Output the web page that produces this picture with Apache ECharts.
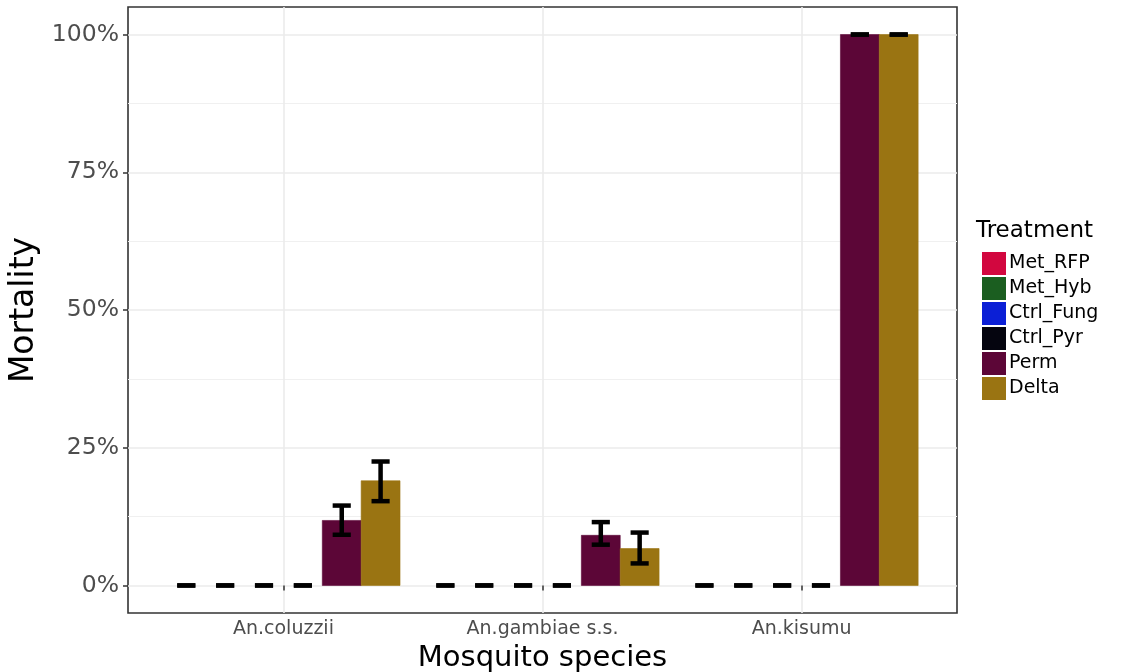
<!DOCTYPE html>
<html>
<head>
<meta charset="utf-8">
<script src="https://cdn.jsdelivr.net/npm/echarts@6/dist/echarts.min.js"></script>
<style>html,body{margin:0;padding:0;background:#fff}#c{width:1121px;height:672px}</style>
</head>
<body>
<div id="c"></div>
<script>
const categories = ['An.coluzzii', 'An.gambiae s.s.', 'An.kisumu'];
const treatments = ['Met_RFP', 'Met_Hyb', 'Ctrl_Fung', 'Ctrl_Pyr', 'Perm', 'Delta'];
const colors = ['#d2073f', '#1b5e20', '#0b1fd6', '#05050f', '#5c0637', '#9a7412'];
const yTicks = [0, 25, 50, 75, 100];

// mean, lower, upper (%) per category
const metRFPMean = [0, 0, 0], metRFPLow = [0, 0, 0], metRFPHigh = [0, 0, 0];
const metHybMean = [0, 0, 0], metHybLow = [0, 0, 0], metHybHigh = [0, 0, 0];
const ctrlFungMean = [0, 0, 0], ctrlFungLow = [0, 0, 0], ctrlFungHigh = [0, 0, 0];
const ctrlPyrMean = [0, 0, 0], ctrlPyrLow = [0, 0, 0], ctrlPyrHigh = [0, 0, 0];
const permMean = [11.8, 9.1, 100], permLow = [9.2, 7.4, 100], permHigh = [14.5, 11.5, 100];
const deltaMean = [19.0, 6.7, 100], deltaLow = [15.3, 4.0, 100], deltaHigh = [22.5, 9.6, 100];

const seriesValues = [
  [metRFPMean, metRFPLow, metRFPHigh],
  [metHybMean, metHybLow, metHybHigh],
  [ctrlFungMean, ctrlFungLow, ctrlFungHigh],
  [ctrlPyrMean, ctrlPyrLow, ctrlPyrHigh],
  [permMean, permLow, permHigh],
  [deltaMean, deltaLow, deltaHigh]
];

const FONT = 'DejaVu Sans';
const dodge = 0.9, n = treatments.length, bw = dodge / n, capHalf = 0.035;

function makeRender(idx) {
  const off = -dodge / 2 + bw * (idx + 0.5);
  return function (params, api) {
    const x = api.value(0) + off;
    const v = api.value(1), lo = api.value(2), hi = api.value(3);
    const pTop = api.coord([x - bw / 2, v]);
    const pBot = api.coord([x + bw / 2, 0]);
    const c = api.coord([x, 0]);
    const yLo = api.coord([x, lo])[1], yHi = api.coord([x, hi])[1];
    const cl = api.coord([x - capHalf, 0])[0], cr = api.coord([x + capHalf, 0])[0];
    const children = [];
    if (Math.abs(pBot[1] - pTop[1]) > 0.01) {
      const col = api.visual('color');
      children.push({
        type: 'rect',
        shape: { x: pTop[0], y: Math.min(pTop[1], pBot[1]), width: pBot[0] - pTop[0], height: Math.abs(pBot[1] - pTop[1]) },
        style: { fill: col, stroke: col, lineWidth: 0.6 }
      });
    }
    const es = { stroke: '#000', lineWidth: 4.5, lineCap: 'butt' };
    children.push({ type: 'line', shape: { x1: c[0], y1: yLo, x2: c[0], y2: yHi }, style: es });
    children.push({ type: 'line', shape: { x1: cl, y1: yLo, x2: cr, y2: yLo }, style: es });
    children.push({ type: 'line', shape: { x1: cl, y1: yHi, x2: cr, y2: yHi }, style: es });
    return { type: 'group', children: children };
  };
}

const gridMarks = [];
[0, 25, 50, 75, 100].forEach(v => gridMarks.push({ yAxis: v, lineStyle: { color: '#ebebeb', width: 1.6, type: 'solid' } }));
[12.5, 37.5, 62.5, 87.5].forEach(v => gridMarks.push({ yAxis: v, lineStyle: { color: '#f0f0f0', width: 1, type: 'solid' } }));
[1, 2, 3].forEach(v => gridMarks.push({ xAxis: v, lineStyle: { color: '#ebebeb', width: 1.6, type: 'solid' } }));

const series = [{
  type: 'line', name: '_grid', data: [], silent: true, z: 0,
  markLine: { silent: true, z: 0, zlevel: 0, symbol: 'none', label: { show: false }, animation: false, data: gridMarks }
}];
treatments.forEach((t, i) => {
  const [m, lo, hi] = seriesValues[i];
  series.push({
    type: 'custom', name: t, z: 10,
    itemStyle: { color: colors[i] },
    renderItem: makeRender(i),
    encode: { x: 0, y: 1 },
    data: categories.map((c, k) => [k + 1, m[k], lo[k], hi[k]])
  });
});

const chart = echarts.init(document.getElementById('c'));
chart.setOption({
  animation: false,
  backgroundColor: '#fff',
  grid: { left: 128, right: 164, top: 7, bottom: 59, outerBoundsMode: 'none', containLabel: false, show: true, borderColor: '#333', borderWidth: 1.6, backgroundColor: 'transparent' },
  xAxis: {
    type: 'value', min: 0.4, max: 3.6,
    name: 'Mosquito species', nameLocation: 'middle', nameGap: 25,
    nameTextStyle: { fontFamily: FONT, fontSize: 29, color: '#000' },
    axisLine: { show: false },
    axisTick: { show: true, length: 5, customValues: [1, 2, 3], lineStyle: { color: '#333', width: 1.5 } },
    axisLabel: { customValues: [1, 2, 3], formatter: v => categories[Math.round(v) - 1], fontFamily: FONT, fontSize: 19, color: '#4d4d4d', margin: 7 },
    splitLine: { show: false }
  },
  yAxis: {
    type: 'value', min: -5, max: 105,
    name: 'Mortality', nameLocation: 'middle', nameGap: 86, nameRotate: 90,
    nameTextStyle: { fontFamily: FONT, fontSize: 33, color: '#000' },
    axisLine: { show: false },
    axisTick: { show: true, length: 5, customValues: yTicks, lineStyle: { color: '#333', width: 1.5 } },
    axisLabel: { customValues: yTicks, formatter: v => v + '%', fontFamily: FONT, fontSize: 23.5, color: '#4d4d4d', margin: 9 },
    splitLine: { show: false }
  },
  legend: {
    data: treatments, orient: 'vertical', left: 977, top: 247,
    icon: 'rect', itemWidth: 24, itemHeight: 23, itemGap: 2,
    textStyle: { fontFamily: FONT, fontSize: 19, color: '#000', padding: [0, 0, 0, -2] },
    selectedMode: false
  },
  graphic: [{
    type: 'text', left: 976, top: 220,
    style: { text: 'Treatment', font: '23px "DejaVu Sans"', fill: '#000' }
  }],
  series: series
});
</script>
</body>
</html>
